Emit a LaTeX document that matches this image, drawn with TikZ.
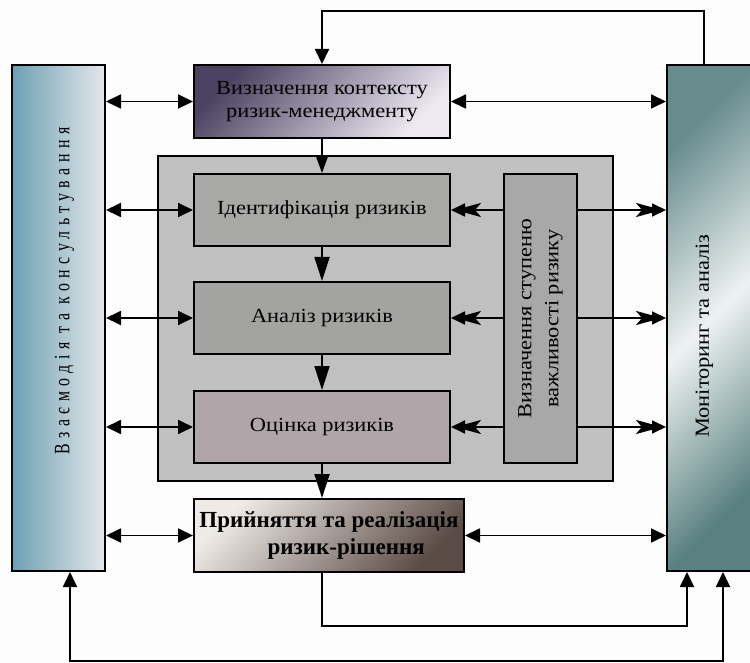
\documentclass[tikz,border=0pt]{standalone}
\usepackage{fontspec}
\setmainfont[FakeStretch=1.12]{Liberation Serif}
\newfontfamily\spacedfont[LetterSpace=25,FakeStretch=0.72]{Liberation Serif}
\newfontfamily\decfont{Liberation Serif}
\usetikzlibrary{arrows.meta,shapes}

\definecolor{paper}{RGB}{253,253,253}
\definecolor{interD}{RGB}{108,160,180}
\definecolor{interL}{RGB}{228,232,234}
\definecolor{monD}{RGB}{104,140,142}
\definecolor{monL}{RGB}{238,242,242}
\definecolor{monB}{RGB}{90,128,128}
\definecolor{ctxD}{RGB}{74,66,96}
\definecolor{ctxL}{RGB}{238,234,242}
\definecolor{decL}{RGB}{238,234,230}
\definecolor{decD}{RGB}{92,76,70}
\definecolor{frameC}{RGB}{192,192,192}
\definecolor{identC}{RGB}{168,168,166}
\definecolor{analC}{RGB}{163,163,161}
\definecolor{assessC}{RGB}{176,166,170}
\definecolor{degreeC}{RGB}{168,168,168}

\begin{document}
\begin{tikzpicture}[x=1pt,y=-1pt,
    >={Triangle[length=15pt,width=14pt]},
    box/.style={draw=black,line width=2pt,inner sep=0pt,align=center,
      font=\fontsize{20}{23}\selectfont},
    stage/.style={box,minimum width=256pt,minimum height=72pt},
    bar/.style={box,minimum width=93pt,minimum height=506pt},
    link/.style={line width=1.8pt},
    flow/.style={link,-{Triangle[length=24pt,width=15pt]}},
    fletch/.style={link,-{Stealth[length=26pt,width=14pt,inset=6pt,sep=-10pt]Triangle[length=14pt,width=13pt]}}]
  \useasboundingbox (0,0) rectangle (750,663);
  \fill[paper] (0,0) rectangle (750,663);

  \node[box,fill=frameC,minimum width=455pt,minimum height=325pt] (stages) at (385.5,318.5) {};
  \node[bar,left color=interD,right color=interL,
    label={[xshift=6pt,yshift=27pt,rotate=90,font=\spacedfont\fontsize{22}{26}\selectfont]center:Взаємодія та консультування}] (inter) at (58.5,318) {};
  \node[bar,minimum width=91pt,top color=monD,bottom color=monB,middle color=monL,shading angle=45,
    label={[xshift=-8pt,yshift=-18pt,rotate=90,font=\fontsize{20}{23}\selectfont]center:Моніторинг та аналіз}] (mon) at (712.5,318) {};
  \node[stage,minimum height=73pt,top color=ctxD,bottom color=ctxL,shading angle=45] (ctx) at (322,101.5) {Визначення контексту\\ризик-менеджменту};
  \node[stage,fill=identC] (ident) at (322,210) {Ідентифікація ризиків};
  \node[stage,fill=analC] (anal) at (322,318) {Аналіз ризиків};
  \node[stage,fill=assessC] (assess) at (322,427) {Оцінка ризиків};
  \node[box,fill=degreeC,minimum width=73pt,minimum height=289pt,
    label={[rotate=90,align=center,font=\fontsize{20}{27}\selectfont]center:Визначення ступеню\\важливості ризику}] (degree) at (540.5,318.5) {};
  \node[stage,minimum width=270pt,minimum height=73pt,top color=decL,bottom color=decD,shading angle=45,
    font=\decfont\bfseries\fontsize{23}{27}\selectfont] (dec) at (329,535.5) {Прийняття та реалізація\\\hspace*{1.5em}ризик-рішення};

  % feedback from monitoring
  \draw[link,->] ([xshift=-8.5pt]mon.north) -- ++(0,-53) -| (ctx.north);
  \path[link,<->] (inter.east |- ctx.west) edge (ctx.west)
    (ctx.east) edge (mon.west |- ctx.east)
    (inter.east |- ident.west) edge (ident.west)
    (inter.east |- anal.west) edge (anal.west)
    (inter.east |- assess.west) edge (assess.west)
    (inter.east |- dec.west) edge (dec.west)
    (dec.east) edge (mon.west |- dec.east);
  \draw[link,-{Triangle[length=17pt,width=12pt]}] (ctx.south) -- (ident.north);
  \draw[flow] (ident.south) -- (anal.north);
  \draw[flow] (anal.south) -- (assess.north);
  \draw[flow] (assess.south) -- (assess.south |- dec.north);
  \path[fletch] (degree.west |- ident.east) edge (ident.east)
    (degree.west |- anal.east) edge (anal.east)
    (degree.west |- assess.east) edge (assess.east)
    (degree.east |- ident.east) edge (mon.west |- ident.east)
    (degree.east |- anal.east) edge (mon.west |- anal.east)
    (degree.east |- assess.east) edge (mon.west |- assess.east);
  % bottom loops
  \draw[link,->] ([xshift=-7pt]dec.south) -- ++(0,53) -| ([xshift=-25.5pt]mon.south);
  \draw[link,<->] ([xshift=11.5pt]inter.south) -- ++(0,89) -| ([xshift=10.5pt]mon.south);
\end{tikzpicture}
\end{document}
